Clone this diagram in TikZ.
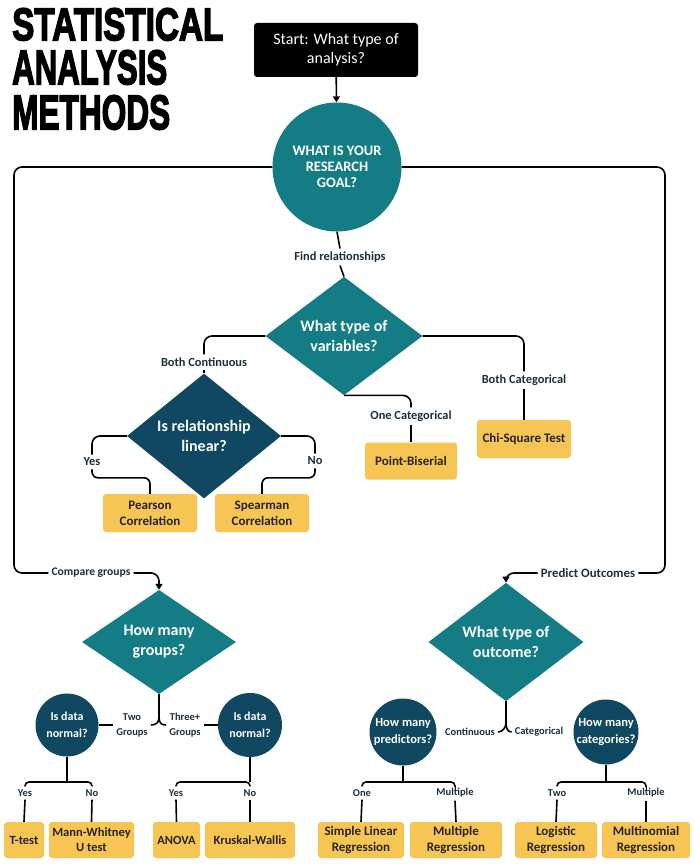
\documentclass[tikz,border=0pt]{standalone}
\usepackage{fontspec}
\setmainfont{Carlito}
\newfontfamily\titlefont[FakeBold=3.5]{Liberation Sans}
\usetikzlibrary{shapes.geometric,arrows.meta,calc}
\definecolor{teal1}{RGB}{20,124,132}
\definecolor{navy1}{RGB}{15,72,96}
\definecolor{yel1}{RGB}{247,197,84}
\definecolor{lab1}{RGB}{28,48,60}
\definecolor{boxtxt}{RGB}{40,35,30}
\tikzset{
  conn/.style={line width=1.6pt, black},
  arr/.style={conn, -{Triangle[length=6pt,width=7pt]}},
  lbl/.style={font=\bfseries\fontsize{10.5}{15}\selectfont, text=lab1, inner sep=3pt, align=center},
  biglbl/.style={lbl, font=\bfseries\fontsize{12.4}{15}\selectfont},
  res/.style={fill=yel1, rounded corners=3pt, font=\bfseries\fontsize{12.5}{15}\selectfont, text=boxtxt, align=center, inner sep=0pt, minimum height=36pt},
  bigres/.style={res, font=\bfseries\fontsize{13}{16}\selectfont},
  dia/.style={diamond, fill=teal1, inner sep=0pt, text=white, font=\bfseries\fontsize{16}{20}\selectfont, align=center},
  circ/.style={circle, fill=navy1, inner sep=0pt, text=white, align=center, font=\bfseries\fontsize{12}{17}\selectfont},
  startbox/.style={fill=black, rounded corners=3pt, text=white, minimum width=164pt, minimum height=54pt, font=\fontsize{16}{19}\selectfont, align=center},
  ttl/.style={anchor=north west, inner sep=0pt}
}
\begin{document}
\begin{tikzpicture}[x=1pt,y=-1pt]
\useasboundingbox[fill=white] (0,0) rectangle (693,864);
% title
\node[ttl] (t1) at (12,8) {\resizebox{211pt}{32pt}{\titlefont\bfseries STATISTICAL}};
\node[ttl] (t2) at (12,50) {\resizebox{155pt}{34pt}{\titlefont\bfseries ANALYSIS}};
\node[ttl] (t3) at (12,95) {\resizebox{158pt}{34pt}{\titlefont\bfseries METHODS}};

% top
\node[startbox] (start) at (336,50) {Start: What type of\\analysis?};
\node[circ, fill=teal1, minimum size=129pt, font=\bfseries\fontsize{14.5}{16}\selectfont] (goal) at (337,167) {WHAT IS YOUR\\RESEARCH\\GOAL?};
\node[biglbl] (fr) at (340,257) {Find relationships};
\node[dia, minimum width=157pt, minimum height=99pt] (vars) at (344,336) {What type of\\variables?};
\node[biglbl] (bcont) at (204,362) {Both Continuous};
\node[biglbl] (bcat) at (524,380) {Both Categorical};
\node[biglbl] (onec) at (411,416) {One Categorical};
\node[bigres, minimum width=94pt, minimum height=38pt] (chi) at (524,439) {Chi-Square Test};
\node[bigres, minimum width=92pt, minimum height=37pt] (pb) at (411,461) {Point-Biserial};
\node[dia, fill=navy1, minimum width=154pt, minimum height=103pt] (lin) at (204,436) {Is relationship\\linear?};
\node[biglbl] (yes1) at (92,462) {Yes};
\node[biglbl] (no1) at (315,461) {No};
\node[bigres, minimum width=94pt, minimum height=38pt] (pear) at (150,513) {Pearson\\Correlation};
\node[bigres, minimum width=94pt, minimum height=38pt] (spear) at (262,513) {Spearman\\Correlation};

% frame labels
\coordinate (cornL) at (14,573);
\coordinate (cornR) at (665,573);
\node[lbl, font=\bfseries\fontsize{11.6}{14}\selectfont] (cg) at (91,573) {Compare groups};
\node[lbl, font=\bfseries\fontsize{12.8}{15}\selectfont] (po) at (588,573) {Predict Outcomes};

% lower left
\node[dia, minimum width=154pt, minimum height=103pt] (grp) at (159,642) {How many\\groups?};
\node[lbl] (twog) at (132,725) {Two\\Groups};
\node[lbl] (threeg) at (185,725) {Three+\\Groups};
\node[circ, minimum size=63pt] (dn1) at (67,725) {Is data\\normal?};
\node[circ, minimum size=64pt] (dn2) at (250,725) {Is data\\normal?};
\node[lbl] (yes2) at (25,793) {Yes};
\node[lbl] (no2) at (92,793) {No};
\node[lbl] (yes3) at (176,793) {Yes};
\node[lbl] (no3) at (250,793) {No};
\node[res, minimum width=40pt] (tt) at (24,840) {T-test};
\node[res, minimum width=85pt] (mw) at (91.5,840) {Mann-Whitney\\U test};
\node[res, minimum width=47pt] (anova) at (176.5,840) {ANOVA};
\node[res, minimum width=90pt] (kw) at (250,840) {Kruskal-Wallis};

% lower right
\node[dia, minimum width=155pt, minimum height=105pt] (outc) at (506,642) {What type of\\outcome?};
\node[lbl] (cont) at (470,732) {Continuous};
\node[lbl] (categ) at (539,732) {Categorical};
\node[circ, minimum size=67pt, font=\bfseries\fontsize{12.5}{17}\selectfont] (npred) at (403,732) {How many\\predictors?};
\node[circ, minimum size=65pt, font=\bfseries\fontsize{12.5}{17}\selectfont] (ncat) at (606,732) {How many\\categories?};
\node[lbl] (one) at (362,793) {One};
\node[lbl] (mult1) at (455,793) {Multiple};
\node[lbl] (two) at (557,793) {Two};
\node[lbl] (mult2) at (646,793) {Multiple};
\node[bigres, minimum width=86pt] (slr) at (361,840) {Simple Linear\\Regression};
\node[bigres, minimum width=92pt] (mr) at (456,840) {Multiple\\Regression};
\node[bigres, minimum width=82pt] (lr) at (556,840) {Logistic\\Regression};
\node[bigres, minimum width=88pt] (mnr) at (646,840) {Multinomial\\Regression};

% connectors top
\draw[arr] (start) -- (goal);
\draw[conn, rounded corners=8pt] (goal.west) -| (cornL) -- (cg.west);
\draw[arr, rounded corners=8pt] (cg.east) -| (grp.north);
\draw[conn, rounded corners=8pt] (goal.east) -| (cornR) -- (po.east);
\draw[arr, rounded corners=8pt] (po.west) -| (outc.north);
\draw[conn] (goal.south) -- (fr.north);
\draw[conn] (fr.south) -- (vars.north);
\draw[conn, rounded corners=8pt] (vars.west) -| (bcont.north);
\draw[conn] (bcont.south) -- (lin.north);
\draw[conn, rounded corners=8pt] (vars.east) -| (bcat.north);
\draw[conn] (bcat.south) -- (chi.north);
\draw[conn, rounded corners=8pt] (vars.south) -| (onec.north);
\draw[conn] (onec.south) -- (pb.north);
\draw[conn, rounded corners=8pt] (lin.west) -| (yes1.north);
\draw[conn, rounded corners=6pt] (yes1.south) |- ([yshift=16pt]pear.north) -- (pear.north);
\draw[conn, rounded corners=8pt] (lin.east) -| (no1.north);
\draw[conn, rounded corners=6pt] (no1.south) |- ([yshift=16pt]spear.north) -- (spear.north);

% groups fork
\coordinate (fk1) at (159,717);
\draw[conn] (grp.south) -- (fk1);
\draw[conn] (fk1) .. controls +(0,6) and +(5,0) .. (twog.east);
\draw[conn] (fk1) .. controls +(0,6) and +(-5,0) .. (threeg.west);
\draw[conn] (dn1.east) -- (twog.west);
\draw[conn] (threeg.east) -- (dn2.west);
\coordinate (b1) at (67,782);
\draw[conn] (dn1.south) -- (b1);
\draw[conn, rounded corners=4pt] (yes2.north) |- (b1) -| (no2.north);
\draw[conn] (yes2.south) -- (tt.north);
\draw[conn] (no2.south) -- (mw.north);
\coordinate (b2) at (250,782);
\draw[conn] (dn2.south) -- (b2);
\draw[conn, rounded corners=4pt] (yes3.north) |- (b2) -- (no3.north);
\draw[conn] (yes3.south) -- (anova.north);
\draw[conn] (no3.south) -- (kw.north);

% outcome fork
\coordinate (fk2) at (506,723);
\draw[conn] (outc.south) -- (fk2);
\draw[conn] (fk2) .. controls +(0,5) and +(4,0) .. (cont.east);
\draw[conn] (fk2) .. controls +(0,5) and +(-4,0) .. (categ.west);
\coordinate (b3) at (403,782);
\draw[conn] (npred.south) -- (b3);
\draw[conn, rounded corners=4pt] (one.north) |- (b3) -| (mult1.north);
\draw[conn] (one.south) -- (slr.north);
\draw[conn] (mult1.south) -- (mr.north);
\coordinate (b4) at (606,782);
\draw[conn] (ncat.south) -- (b4);
\draw[conn, rounded corners=4pt] (two.north) |- (b4) -| (mult2.north);
\draw[conn] (two.south) -- (lr.north);
\draw[conn] (mult2.south) -- (mnr.north);
\end{tikzpicture}
\end{document}
